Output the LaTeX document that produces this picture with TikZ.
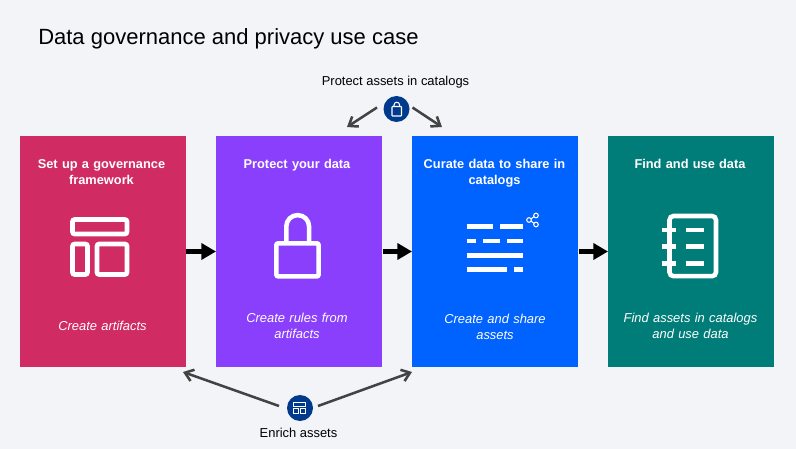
\documentclass[tikz,border=0pt]{standalone}
\usepackage{fontspec}
\setmainfont{Liberation Sans}
\usetikzlibrary{arrows.meta}
\definecolor{bgc}{HTML}{F2F4F8}
\definecolor{cmag}{HTML}{D02B63}
\definecolor{cpur}{HTML}{8A3FFC}
\definecolor{cblue}{HTML}{0062FF}
\definecolor{cteal}{HTML}{007D79}
\definecolor{cnavy}{HTML}{003A8C}
\definecolor{cgray}{HTML}{434343}
\tikzset{
  x=0.75pt,y=-0.75pt,
  stage/.style={draw=none,inner sep=0pt,minimum width=124.5pt,minimum height=173.5pt,anchor=north west},
  head/.style={text=white,font=\fontsize{9.6pt}{12pt}\selectfont\bfseries,align=center,inner sep=0pt,text width=124pt},
  note/.style={text=white,font=\fontsize{9.7pt}{12pt}\selectfont\itshape,align=center,inner sep=0pt,text width=120pt},
  flow/.style={draw=black,line width=3.75pt,-{Triangle[length=11pt,width=12pt]},shorten >=0pt},
  side/.style={draw=cgray,line width=1.9pt,-{Straight Barb[length=6pt,width=9pt,line width=1.9pt]}},
  badge/.style={circle,fill=cnavy,minimum size=19.5pt,inner sep=0pt},
  caption/.style={font=\fontsize{9.7pt}{12pt}\selectfont,text=black,inner sep=0pt},
  icon/.style={draw=white,line width=3.4pt,rounded corners=1.5pt},
  iconbar/.style={draw=white,line width=3.4pt},
  mini/.style={draw=white,line width=0.8pt},
}
\begin{document}
\begin{tikzpicture}
\useasboundingbox (0,0) rectangle (796,449);
\fill[bgc] (0,0) rectangle (796,449);
\node[anchor=base west,inner sep=0pt,font=\fontsize{16.5pt}{18pt}\selectfont] (title) at (38,45) {Data governance and privacy use case};

\node[stage,fill=cmag] (b1) at (19.5,135.5) {};
\node[stage,fill=cpur] (b2) at (216,135.5) {};
\node[stage,fill=cblue] (b3) at (412,135.5) {};
\node[stage,fill=cteal] (b4) at (608,135.5) {};

\node[head,anchor=north] (h1) at (101.5,159) {Set up a governance\\framework};
\node[head,anchor=north] (h2) at (297,159) {Protect your data};
\node[head,anchor=north] (h3) at (494.5,159) {Curate data to share in\\catalogs};
\node[head,anchor=north] (h4) at (690,159) {Find and use data};

\node[note,anchor=north] (n1) at (102.5,321) {Create artifacts};
\node[note,anchor=north] (n2) at (297,313) {Create rules from\\artifacts};
\node[note,anchor=north] (n3) at (495,314) {Create and share\\assets};
\node[note,anchor=north] (n4) at (690.5,313) {Find assets in catalogs\\and use data};

\draw[flow] (b1.east |- 0,251.5) -- (b2.west |- 0,251.5);
\draw[flow] (b2.east |- 0,251.5) -- (b3.west |- 0,251.5);
\draw[flow] (b3.east |- 0,251.5) -- (b4.west |- 0,251.5);

% icon 1
\draw[icon] (72.5,219.5) rectangle (127,234);
\draw[icon] (72.5,244) rectangle (87.5,274.5);
\draw[icon] (97,244) rectangle (127,274.5);
% lock icon
\draw[icon] (276.3,243.3) rectangle (318.7,276.4);
\draw[iconbar] (286.3,243) -- (286.3,226.5) arc[start angle=180,end angle=360,x radius=11.4,y radius=11.4] -- (309.1,243);
% curate icon
\foreach \ya/\xa/\xb in {226.7/466.7/492.7,226.7/500/523.3,241/466.7/476,241/483/500,241/507/523.3,255.3/466.7/523.3,269.3/466.7/507,269.3/514/523.3}
  \draw[draw=white,line width=3.4pt] (\xa,\ya) -- (\xb,\ya);
\draw[mini] (529,220) circle[radius=2.3] (536,215.5) circle[radius=2.3] (536,224.5) circle[radius=2.3];
\draw[mini] (531,219) -- (534,216.6) (531,221) -- (534,223.4);
% notebook icon
\draw[icon,rounded corners=3pt] (669.5,216) rectangle (716,276.2);
\foreach \ya in {230,246.7,263.3}{
  \draw[draw=white,line width=3.4pt] (661.7,\ya) -- (676,\ya);
  \draw[draw=white,line width=3.4pt] (685.7,\ya) -- (704.3,\ya);
}

% top badge
\node[caption] (captop) at (395.5,82.5) {Protect assets in catalogs};
\node[badge] (btop) at (396.5,109) {};
\draw[draw=white,line width=0.8pt,rounded corners=0.5pt] (392,106.5) rectangle (401.5,116);
\draw[draw=white,line width=0.8pt] (394,106.5) -- (394,105) arc[start angle=180,end angle=360,x radius=2.8,y radius=2.8] -- (399.6,106.5);
\coordinate (tl) at (347,127);
\coordinate (tr) at (442,127);
\draw[side] (377,107.5) -- (tl);
\draw[side] (412.5,107.5) -- (tr);

% bottom badge
\node[badge] (bbot) at (300,408) {};
\draw[draw=white,line width=0.6pt] (293.8,402.8) rectangle (305.7,406.8) (293.8,408.8) rectangle (298.2,413.6) (300,408.8) rectangle (305.7,413.6);
\node[caption] (capbot) at (298.5,432.5) {Enrich assets};
\coordinate (bl) at (183,372);
\coordinate (br) at (412,372);
\draw[side] (279,406) -- (bl);
\draw[side] (318,406) -- (br);
\end{tikzpicture}
\end{document}
